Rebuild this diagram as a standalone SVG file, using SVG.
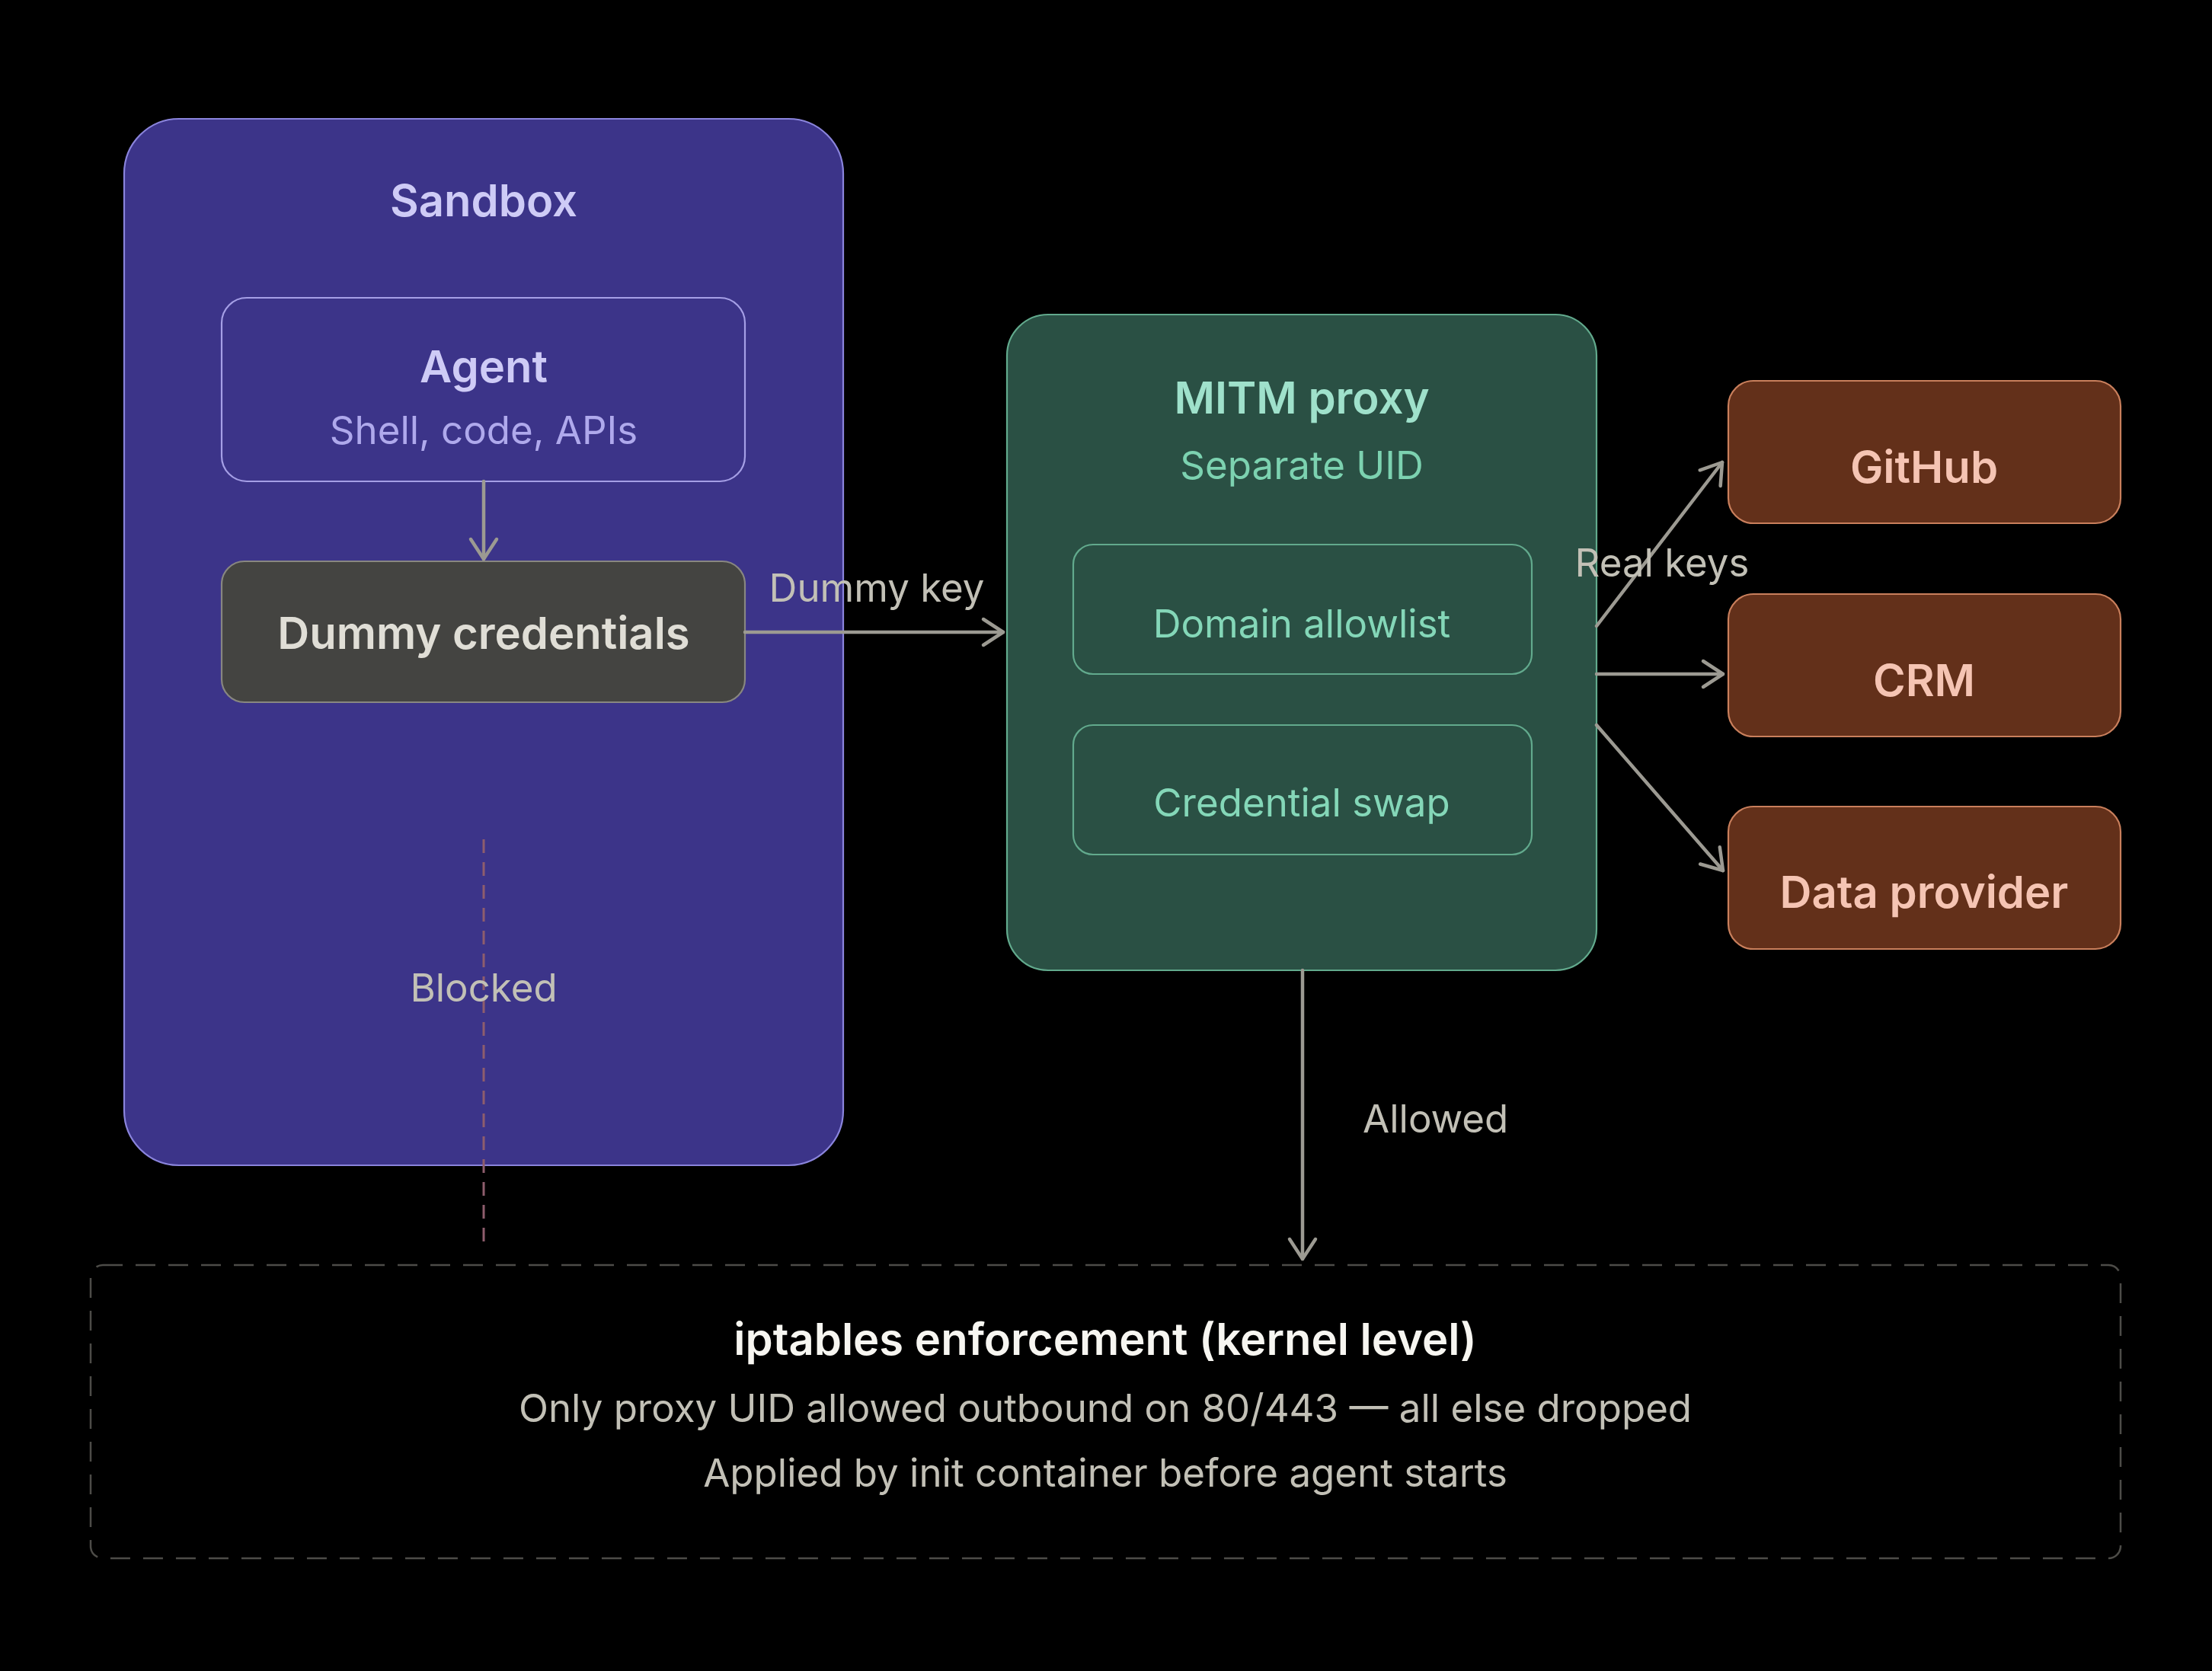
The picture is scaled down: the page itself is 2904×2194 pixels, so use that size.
<svg xmlns="http://www.w3.org/2000/svg" width="2904" height="2194" viewBox="0 0 2904 2194">
<style>
text{font-family:Inter,"Noto Sans","Liberation Sans",sans-serif;text-anchor:middle}
.t{font-size:58px;font-weight:600}
.s{font-size:51px;font-weight:400}
.lbl{font-size:51px;fill:#c2c0b6}
.conn{fill:none;stroke:#9c9a92;stroke-width:4.5;stroke-linecap:round}
</style>
<defs>
<marker id="ah" markerUnits="userSpaceOnUse" markerWidth="60" markerHeight="60" viewBox="-40 -30 60 60" refX="0" refY="0" orient="auto">
<path d="M-26,-17 L0,0 L-26,17" fill="none" stroke="#9c9a92" stroke-width="4.5" stroke-linecap="round" stroke-linejoin="round"/>
</marker>
</defs>
<rect width="2904" height="2194" fill="#000"/>

<g id="sandbox">
<rect x="163" y="156" width="944" height="1374" rx="72" fill="#3c3489" stroke="#8a84dc" stroke-width="2.2"/>
<text x="635" y="284" class="t" fill="#cecbf6">Sandbox</text>
</g>

<g id="iptables">
<rect x="119" y="1661" width="2665" height="385" rx="16" fill="none" stroke="#4d4c48" stroke-width="2.5" stroke-dasharray="26 17"/>
<text x="1451" y="1779" class="t" fill="#f7f6f1">iptables enforcement (kernel level)</text>
<text x="1451" y="1867" class="s" fill="#c2c0b6">Only proxy UID allowed outbound on 80/443 — all else dropped</text>
<text x="1451" y="1952" class="s" fill="#c2c0b6">Applied by init container before agent starts</text>
</g>

<g id="agent">
<rect x="291" y="391" width="687" height="241" rx="33" fill="#3c3489" stroke="#a59fe6" stroke-width="2.2"/>
<text x="635" y="502" class="t" fill="#cecbf6">Agent</text>
<text x="635" y="583" class="s" fill="#afa9ec">Shell, code, APIs</text>
</g>

<g id="dummy">
<rect x="291" y="737" width="687" height="185" rx="30" fill="#444441" stroke="#888780" stroke-width="2.2"/>
<text x="635" y="852" class="t" fill="#e0ded6">Dummy credentials</text>
</g>

<g id="proxy">
<rect x="1322" y="413" width="774" height="861" rx="54" fill="#2a5044" stroke="#62aa8d" stroke-width="2.2"/>
<text x="1709" y="543" class="t" fill="#9fe1cb">MITM proxy</text>
<text x="1709" y="629" class="s" fill="#7cd2b0">Separate UID</text>
</g>

<g id="allowlist">
<rect x="1409" y="715" width="602" height="170" rx="26" fill="#2a5044" stroke="#62aa8d" stroke-width="2.2"/>
<text x="1709" y="837" class="s" fill="#84d7b8">Domain allowlist</text>
</g>

<g id="swap">
<rect x="1409" y="952" width="602" height="170" rx="26" fill="#2a5044" stroke="#62aa8d" stroke-width="2.2"/>
<text x="1709" y="1072" class="s" fill="#84d7b8">Credential swap</text>
</g>

<g id="github">
<rect x="2269" y="500" width="515" height="187" rx="33" fill="#63301a" stroke="#c97f5c" stroke-width="2.2"/>
<text x="2526" y="634" class="t" fill="#f5c4b3">GitHub</text>
</g>

<g id="crm">
<rect x="2269" y="780" width="515" height="187" rx="33" fill="#63301a" stroke="#c97f5c" stroke-width="2.2"/>
<text x="2526" y="914" class="t" fill="#f5c4b3">CRM</text>
</g>

<g id="dataprovider">
<rect x="2269" y="1059" width="515" height="187" rx="33" fill="#63301a" stroke="#c97f5c" stroke-width="2.2"/>
<text x="2526" y="1192" class="t" fill="#f5c4b3">Data provider</text>
</g>

<g id="connectors">
<line class="conn" x1="635" y1="632" x2="635" y2="734" marker-end="url(#ah)"/>
<line class="conn" x1="978" y1="830" x2="1317" y2="830" marker-end="url(#ah)"/>
<line class="conn" x1="2096" y1="822" x2="2261" y2="607" marker-end="url(#ah)"/>
<line class="conn" x1="2096" y1="885" x2="2262" y2="885" marker-end="url(#ah)"/>
<line class="conn" x1="2096" y1="952" x2="2262" y2="1143" marker-end="url(#ah)"/>
<line class="conn" x1="1710" y1="1274" x2="1710" y2="1653" marker-end="url(#ah)"/>
<line x1="635" y1="1102" x2="635" y2="1633" fill="none" stroke="#8e5d6d" stroke-width="3" stroke-dasharray="18 12"/>
<text x="1151" y="790" class="lbl">Dummy key</text>
<text x="2182" y="757" class="lbl">Real keys</text>
<text x="1789" y="1487" class="lbl" style="text-anchor:start">Allowed</text>
<text x="635" y="1315" class="lbl">Blocked</text>
</g>
</svg>
